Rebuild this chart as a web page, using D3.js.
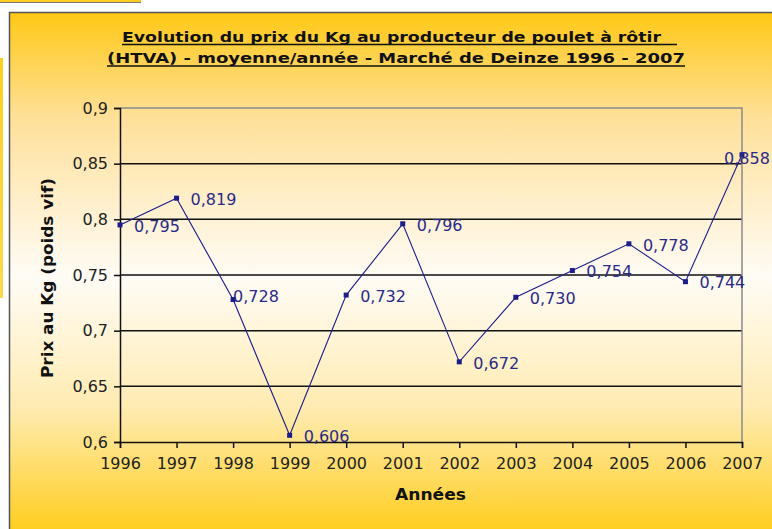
<!DOCTYPE html>
<html><head><meta charset="utf-8">
<script src="https://cdn.jsdelivr.net/npm/d3@7"></script>
<style>body{margin:0;background:#fff}svg{display:block}</style>
</head><body>
<script>
const years = [1996,1997,1998,1999,2000,2001,2002,2003,2004,2005,2006,2007];
const prices = [0.795,0.819,0.728,0.606,0.732,0.796,0.672,0.730,0.754,0.778,0.744,0.858];
const yTicks = [0.6,0.65,0.7,0.75,0.8,0.85,0.9];
const titleLines = ["Evolution du prix du Kg au producteur de poulet à rôtir ","(HTVA) - moyenne/année - Marché de Deinze 1996 - 2007"];
const yTitle = "Prix au Kg (poids vif)";
const xTitle = "Années";

const W=772,H=529;
const svg=d3.select("body").append("svg").attr("width",W).attr("height",H);
const defs=svg.append("defs");
const g=defs.append("linearGradient").attr("id","bg").attr("x1",0).attr("y1",0).attr("x2",0).attr("y2",1);
g.append("stop").attr("offset","0").attr("stop-color","#FFC815");
g.append("stop").attr("offset","0.2").attr("stop-color","#FFE09A");
g.append("stop").attr("offset","0.5").attr("stop-color","#FFFCF6");
g.append("stop").attr("offset","0.75").attr("stop-color","#FFEBB0");
g.append("stop").attr("offset","1").attr("stop-color","#FFCB12");
const g2=defs.append("linearGradient").attr("id","bg2").attr("x1",0).attr("y1",0).attr("x2",0).attr("y2",1);
g2.append("stop").attr("offset","0").attr("stop-color","#FFD020");
g2.append("stop").attr("offset","1").attr("stop-color","#FFD94A");

// small decorative pieces
svg.append("rect").attr("x",0).attr("y",0).attr("width",141).attr("height",2).attr("fill","#FFCC22");
svg.append("line").attr("x1",0).attr("x2",141).attr("y1",2.5).attr("y2",2.5).attr("stroke","#777").attr("stroke-width",1);
svg.append("rect").attr("x",0).attr("y",58).attr("width",3).attr("height",240).attr("fill","url(#bg2)");

// frame
svg.append("rect").attr("x",9.5).attr("y",12.5).attr("width",W).attr("height",H).attr("fill","url(#bg)").attr("stroke","#555").attr("stroke-width",1.5);

const m={l:120,r:742,t:108,b:442};
const x=d3.scaleLinear().domain([1996,2007]).range([m.l,m.r]);
const y=d3.scaleLinear().domain([0.6,0.9]).range([m.b,m.t]);
const fmt=v=>String(+v.toFixed(2)).replace(".",",");

// gridlines
svg.append("g").selectAll("line").data(yTicks.filter(t=>t>0.6&&t<0.9)).join("line")
 .attr("x1",m.l).attr("x2",m.r).attr("y1",d=>y(d)).attr("y2",d=>y(d))
 .attr("stroke","#111").attr("stroke-width",1.5);
// plot border top/right
svg.append("path").attr("d",`M${m.l},${y(0.9)}H${m.r}V${m.b}`).attr("fill","none").attr("stroke","#8a8a8a").attr("stroke-width",1.5);

const font="'DejaVu Sans', Verdana, sans-serif";
// y axis
const ya=svg.append("g").attr("transform",`translate(${m.l},0)`)
 .call(d3.axisLeft(y).tickValues(yTicks).tickFormat(fmt).tickSize(6).tickPadding(6));
ya.select(".domain").attr("stroke","#111").attr("stroke-width",1.5);
ya.selectAll(".tick line").attr("stroke","#111").attr("stroke-width",1.5);
ya.selectAll("text").attr("font-family",font).attr("font-size",16).attr("fill","#222");
// x axis
const xa=svg.append("g").attr("transform",`translate(0,${m.b})`)
 .call(d3.axisBottom(x).tickValues(years).tickFormat(d3.format("d")).tickSize(6).tickPadding(10));
xa.select(".domain").attr("stroke","#111").attr("stroke-width",1.5);
xa.selectAll(".tick line").attr("stroke","#111").attr("stroke-width",1.5);
xa.selectAll("text").attr("font-family",font).attr("font-size",16).attr("fill","#222");

// line
const navy="#1c1c8c";
const pts=years.map((yr,i)=>({yr,v:prices[i],i}));
svg.append("path").datum(pts).attr("fill","none").attr("stroke",navy).attr("stroke-width",1.1)
 .attr("d",d3.line().x(d=>x(d.yr)).y(d=>y(d.v)));
svg.append("g").selectAll("rect").data(pts).join("rect")
 .attr("x",d=>x(d.yr)-2.5).attr("y",d=>y(d.v)-2.5).attr("width",5).attr("height",5).attr("fill",navy);
// label placement: to the right of each point, a couple moved like in the source
const nudge={2:[-14,-4],11:[-32,2]};
svg.append("g").selectAll("text").data(pts).join("text")
 .attr("x",d=>x(d.yr)+14+(nudge[d.i]?nudge[d.i][0]:0))
 .attr("y",d=>y(d.v)+1+(nudge[d.i]?nudge[d.i][1]:0))
 .attr("dy","0.36em")
 .attr("font-family",font).attr("font-size",16).attr("fill","#2a2a8a")
 .text(d=>d.v.toFixed(3).replace(".",","));

// titles
const tx=[{x:122,y:42,w:545,u:44.5,ue:677},{x:107,y:63,w:578,u:66,ue:685}];
titleLines.forEach((t,i)=>{
  svg.append("text").attr("x",tx[i].x).attr("y",tx[i].y)
   .attr("font-family",font).attr("font-weight","bold").attr("font-size",14.5).attr("fill","#111")
   .attr("textLength",tx[i].w).attr("lengthAdjust","spacingAndGlyphs").attr("xml:space","preserve").text(t);
  svg.append("line").attr("x1",tx[i].x).attr("x2",tx[i].ue).attr("y1",tx[i].u).attr("y2",tx[i].u).attr("stroke","#111").attr("stroke-width",1.5);
});
svg.append("text").attr("transform","translate(53,278) rotate(-90)").attr("x",-100).attr("y",0)
 .attr("font-family",font).attr("font-weight","bold").attr("font-size",15).attr("fill","#111")
 .attr("textLength",200).attr("lengthAdjust","spacingAndGlyphs").text(yTitle);
svg.append("text").attr("x",395).attr("y",500)
 .attr("font-family",font).attr("font-weight","bold").attr("font-size",15.5).attr("fill","#111")
 .attr("textLength",71).attr("lengthAdjust","spacingAndGlyphs").text(xTitle);
</script>
</body></html>
